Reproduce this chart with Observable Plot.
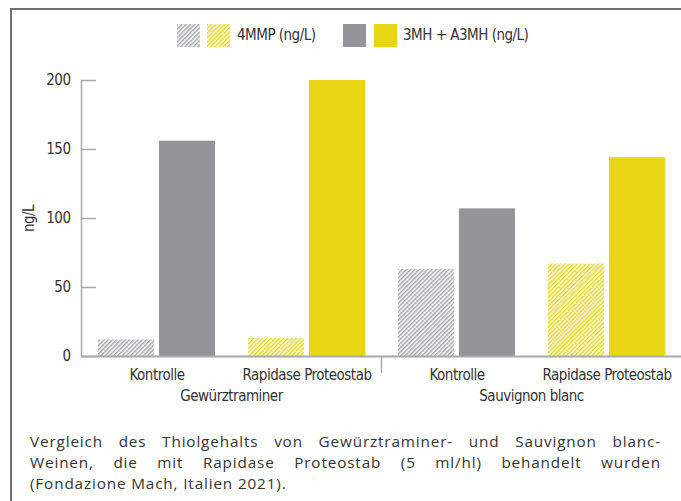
<!DOCTYPE html>
<html><head><meta charset="utf-8">
<script src="https://cdn.jsdelivr.net/npm/d3@7"></script>
<script src="https://cdn.jsdelivr.net/npm/@observablehq/plot@0.6"></script>
<style>
body{margin:0;background:#fff;width:681px;height:501px;overflow:hidden;position:relative;font-family:"DejaVu Sans Condensed","DejaVu Sans",sans-serif;}
#box{position:absolute;left:10px;top:8px;width:671px;height:493px;border-top:2px solid #707173;border-left:2px solid #707173;box-sizing:border-box;}
.sw{position:absolute;top:24px;width:23px;height:23px}
.lt{position:absolute;top:24px;line-height:23px;font-size:15px;letter-spacing:-0.5px;color:#333;white-space:nowrap;font-stretch:condensed}
#chart{position:absolute;left:0;top:60px}
#chart svg{font-stretch:condensed;letter-spacing:-0.5px}
#caption{position:absolute;left:30px;top:431px;width:631px;font-family:"Open Sans",sans-serif;font-stretch:normal;font-size:15.3px;letter-spacing:0.85px;line-height:21px;color:#333}
#caption div{height:21px;text-align:justify;text-align-last:justify;white-space:nowrap}
#caption div.last{text-align-last:left}
</style></head>
<body>
<svg width="0" height="0" style="position:absolute">
<defs>
<pattern id="hatchGray" patternUnits="userSpaceOnUse" width="3" height="3" patternTransform="rotate(45)">
<rect width="3" height="3" fill="#fff"/><rect width="1.5" height="3" fill="#a3a5a8"/>
</pattern>
<pattern id="hatchYellow" patternUnits="userSpaceOnUse" width="3" height="3" patternTransform="rotate(45)">
<rect width="3" height="3" fill="#fff"/><rect width="1.5" height="3" fill="#e8d516"/>
</pattern>
</defs>
</svg>
<div id="box"></div>
<div id="legend"></div>
<div id="chart"></div>
<div id="caption"></div>
<script>
// ---- data ----
const wines = ["Gewürztraminer", "Sauvignon blanc"];
const treatments = ["Kontrolle", "Rapidase Proteostab"];
const series = ["4MMP (ng/L)", "3MH + A3MH (ng/L)"];
// order: Gew-Kontrolle, Gew-Rapidase, SB-Kontrolle, SB-Rapidase
const mmp4 = [12, 13, 63, 67];
const mh3 = [156, 200, 107, 144];
const yTicks = [0, 50, 100, 150, 200];
const yLabel = "ng/L";
const captionLines = [
  "Vergleich des Thiolgehalts von Gewürztraminer- und Sauvignon blanc-",
  "Weinen, die mit Rapidase Proteostab (5 ml/hl) behandelt wurden",
  "(Fondazione Mach, Italien 2021)."
];

const fillKeys = ["h|Kontrolle", "h|Rapidase Proteostab", "s|Kontrolle", "s|Rapidase Proteostab"];
const fillRange = ["url(#hatchGray)", "url(#hatchYellow)", "#939598", "#e8d516"];

const rows = [];
wines.forEach((w, i) => treatments.forEach((t, j) => {
  const k = i * 2 + j;
  rows.push({wine: w, treatment: t, series: series[0], value: mmp4[k]});
  rows.push({wine: w, treatment: t, series: series[1], value: mh3[k]});
}));
const fillKey = d => (d.series === series[0] ? "h" : "s") + "|" + d.treatment;

const tickShape = {draw(ctx, l) { ctx.moveTo(0, 0); ctx.lineTo(0, -l); }};
const axisGray = "#a7a9ac";

const plot = Plot.plot({
  width: 681,
  height: 352,
  marginLeft: 80,
  marginRight: 0,
  marginTop: 20,
  marginBottom: 56,
  style: {fontFamily: "'DejaVu Sans Condensed','DejaVu Sans',sans-serif", fontSize: "15px", color: "#333", background: "transparent"},
  fx: {domain: wines, padding: 0, axis: null},
  x: {domain: treatments, paddingInner: 0.22, paddingOuter: 0.107, axis: null},
  y: {domain: [0, 200], axis: null},
  color: {type: "ordinal", domain: fillKeys, range: fillRange},
  marks: [
    Plot.barY(rows.filter(d => d.series === series[0]), {fx: "wine", x: "treatment", y: "value", fill: fillKey, insetRight: 61}),
    Plot.barY(rows.filter(d => d.series === series[1]), {fx: "wine", x: "treatment", y: "value", fill: fillKey, insetLeft: 61}),
    Plot.ruleY([0], {stroke: axisGray, strokeWidth: 2}),
    Plot.frame({anchor: "left", facetAnchor: "left", stroke: axisGray, strokeWidth: 1.5}),
    Plot.axisY({ticks: yTicks, tickSize: -15, tickPadding: 26, stroke: axisGray, strokeWidth: 1.5, fill: "#333",
      label: yLabel, labelAnchor: "center", labelArrow: "none", labelOffset: 58}),
    Plot.axisX({tickSize: 0, tickPadding: 13, fill: "#333", label: null}),
    Plot.text(wines, {fx: d => d, text: d => d, frameAnchor: "bottom", dy: 44, fill: "#333"}),
    Plot.vector([wines[1]], {fx: d => d, frameAnchor: "bottom-left", anchor: "start", length: 16, rotate: 180, shape: tickShape, stroke: axisGray, strokeWidth: 1.5})
  ]
});
document.getElementById("chart").appendChild(plot);

// legend
const legend = document.getElementById("legend");
const sw = (left, fill) => {
  const s = document.createElementNS("http://www.w3.org/2000/svg", "svg");
  s.setAttribute("class", "sw"); s.setAttribute("width", 23); s.setAttribute("height", 23);
  s.style.left = left + "px";
  s.innerHTML = `<rect width="23" height="23" fill="${fill}"/>`;
  legend.appendChild(s);
};
const lt = (left, text) => {
  const d = document.createElement("div");
  d.className = "lt"; d.style.left = left + "px"; d.textContent = text;
  legend.appendChild(d);
};
sw(177, fillRange[0]); sw(207, fillRange[1]); lt(237, series[0]);
sw(343, fillRange[2]); sw(374, fillRange[3]); lt(403, series[1]);

// caption
const cap = document.getElementById("caption");
captionLines.forEach((t, i) => {
  const d = document.createElement("div");
  if (i === captionLines.length - 1) d.className = "last";
  d.textContent = t;
  cap.appendChild(d);
});
</script>
</body></html>
